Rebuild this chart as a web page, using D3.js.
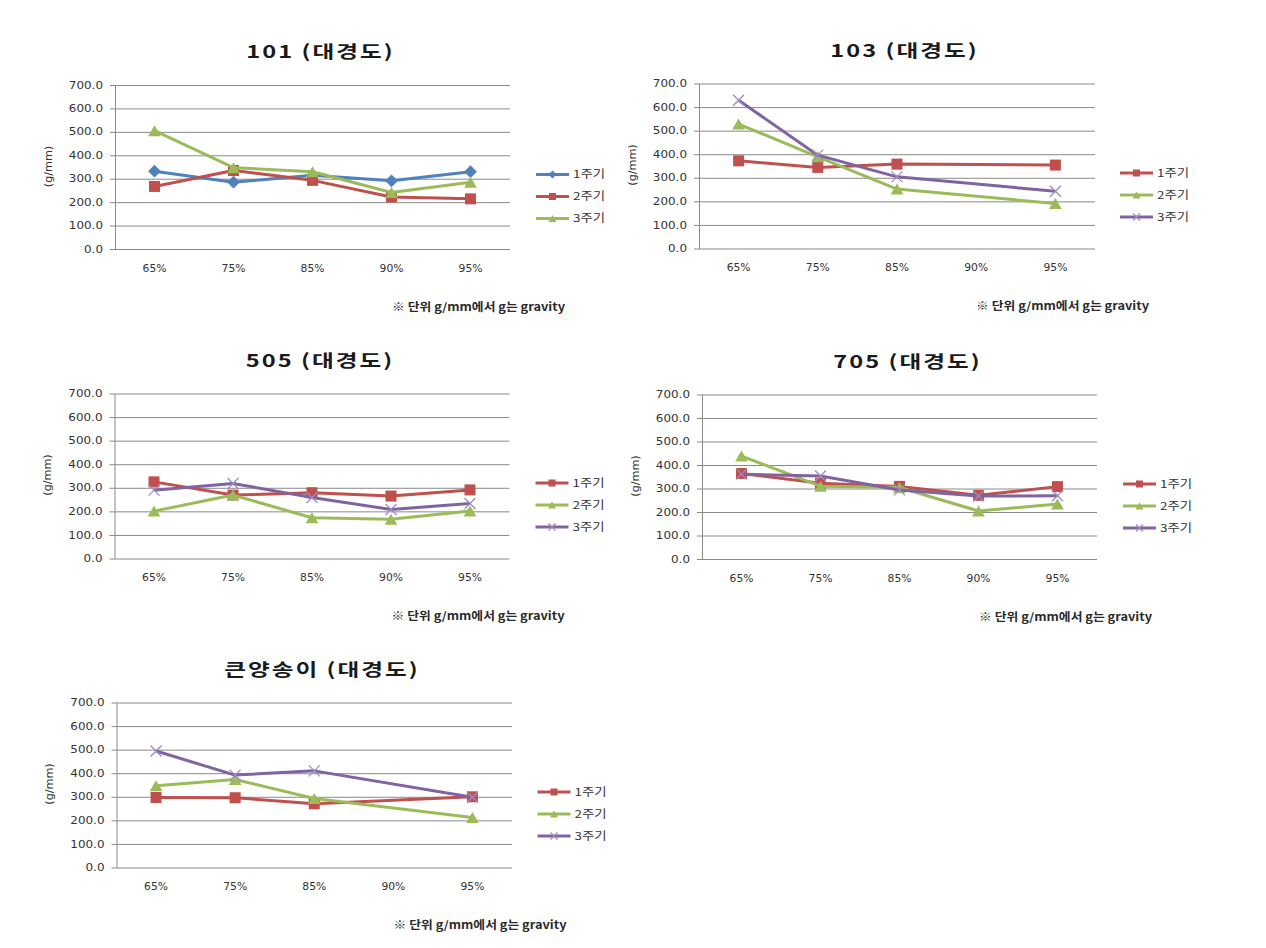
<!DOCTYPE html>
<html><head><meta charset="utf-8">
<script src="https://cdn.jsdelivr.net/npm/d3@7"></script>
<style>body{margin:0;background:#fff}svg{display:block}</style>
</head><body>
<svg id="c" width="1266" height="948"></svg>
<script>
// ---------- DATA ----------
const categories = ["65%","75%","85%","90%","95%"];
const yTicks = [0,100,200,300,400,500,600,700];
const seriesNames = ["1주기","2주기","3주기"];
const titles = ["101 (대경도)","103 (대경도)","505 (대경도)","705 (대경도)","큰양송이 (대경도)"];
const noteText = "※ 단위 g/mm에서 g는 gravity";
const yLabelText = "(g/mm)";

const v101_c1 = [332,285,315,291,330];
const v101_c2 = [267,335,293,222,214];
const v101_c3 = [505,347,330,241,285];
const v103_c1 = [372,344,358,null,354];
const v103_c2 = [528,389,252,null,191];
const v103_c3 = [629,396,304,null,243];
const v505_c1 = [325,269,279,265,291];
const v505_c2 = [201,269,173,167,202];
const v505_c3 = [290,318,259,208,233];
const v705_c1 = [364,322,309,271,308];
const v705_c2 = [438,310,304,204,234];
const v705_c3 = [361,353,294,268,269];
const vKeun_c1 = [297,296,270,null,300];
const vKeun_c2 = [347,373,293,null,212];
const vKeun_c3 = [494,392,410,null,298];

// ---------- STYLE / LAYOUT ----------
const COL = {blue:"#4F81BD", red:"#C0504D", green:"#9BBB59", purple:"#8064A2"};
const styleA = [{c:COL.blue,m:"diamond"},{c:COL.red,m:"square"},{c:COL.green,m:"triangle"}];
const styleB = [{c:COL.red,m:"square"},{c:COL.green,m:"triangle"},{c:COL.purple,m:"x"}];

const charts = [
  {title:titles[0], series:[v101_c1,v101_c2,v101_c3], style:styleA, left:115, top:85, w:395, h:164},
  {title:titles[1], series:[v103_c1,v103_c2,v103_c3], style:styleB, left:699, top:83.5, w:396, h:165},
  {title:titles[2], series:[v505_c1,v505_c2,v505_c3], style:styleB, left:114.5, top:393.5, w:395, h:165},
  {title:titles[3], series:[v705_c1,v705_c2,v705_c3], style:styleB, left:702, top:394.5, w:395, h:164.5},
  {title:titles[4], series:[vKeun_c1,vKeun_c2,vKeun_c3], style:styleB, left:116.5, top:702.5, w:395.5, h:165}
];

const svg = d3.select("#c");
svg.append("rect").attr("width",1266).attr("height",948).attr("fill","#fff");

const GRID = "#8a8a8a";
const LAB_FONT = "'DejaVu Sans', 'Noto Sans CJK KR', sans-serif";
const KR_FONT = "'Noto Sans CJK KR', 'DejaVu Sans', sans-serif";

function stretch(sel, f){
  sel.each(function(){
    const L = this.getComputedTextLength();
    this.setAttribute("textLength", (L*f).toFixed(2));
    this.setAttribute("lengthAdjust","spacingAndGlyphs");
  });
}
function stretchTo(sel, target){
  sel.each(function(){
    this.setAttribute("textLength", target);
    this.setAttribute("lengthAdjust","spacingAndGlyphs");
  });
}

function marker(g, type, cx, cy, s, color){
  if(type==="square"){
    g.append("rect").attr("x",cx-s/2).attr("y",cy-s/2).attr("width",s).attr("height",s).attr("fill",color);
  } else if(type==="diamond"){
    const r = s*0.58;
    g.append("path").attr("d",`M${cx},${cy-r}L${cx+r},${cy}L${cx},${cy+r}L${cx-r},${cy}Z`).attr("fill",color);
  } else if(type==="triangle"){
    const hw = s*0.58, hh = s*0.5;
    g.append("path").attr("d",`M${cx},${cy-hh}L${cx+hw},${cy+hh}L${cx-hw},${cy+hh}Z`).attr("fill",color);
  } else if(type==="x"){
    const r = s/2;
    g.append("path").attr("d",`M${cx-r},${cy-r}L${cx+r},${cy+r}M${cx-r},${cy+r}L${cx+r},${cy-r}`)
      .attr("stroke","#9d8bbf").attr("stroke-width",1.3).attr("fill","none");
  }
}

charts.forEach(ch => {
  const {left, top, w, h} = ch;
  const x = d3.scaleBand().domain(categories).range([0,w]);
  const y = d3.scaleLinear().domain([0,700]).range([h,0]);
  const g = svg.append("g").attr("transform",`translate(${left},${top})`);

  // gridlines
  const grid = g.append("g").call(d3.axisLeft(y).tickValues(yTicks).tickSize(-w).tickFormat(""));
  grid.select(".domain").remove();
  grid.selectAll("line").attr("stroke",GRID).attr("stroke-width",1);

  // y axis with ticks + labels
  const ya = g.append("g").call(d3.axisLeft(y).tickValues(yTicks).tickSizeInner(5).tickSizeOuter(0).tickPadding(7).tickFormat(d3.format(".1f")));
  ya.select(".domain").attr("stroke",GRID);
  ya.selectAll("line").attr("stroke",GRID);
  ya.selectAll("text").attr("font-family",LAB_FONT).attr("font-size",9.8).attr("fill","#333");
  stretch(ya.selectAll("text"), 1.22);

  // x axis labels
  const xa = g.append("g").attr("transform",`translate(0,${h})`).call(d3.axisBottom(x).tickSize(0).tickPadding(16));
  xa.select(".domain").remove();
  xa.selectAll("text").attr("font-family",LAB_FONT).attr("font-size",9.8).attr("fill","#333");
  stretch(xa.selectAll("text"), 1.1);

  // series
  const line = d3.line().x(d => x(d.cat)+x.bandwidth()/2).y(d => y(d.v));
  ch.series.forEach((vals, si) => {
    const st = ch.style[si];
    const pts = categories.map((c,i)=>({cat:c, v:vals[i]})).filter(d => d.v !== null);
    const sg = g.append("g");
    sg.append("path").datum(pts).attr("d",line).attr("fill","none")
      .attr("stroke",st.c).attr("stroke-width",3).attr("stroke-linejoin","round");
    pts.forEach(d => marker(sg, st.m, x(d.cat)+x.bandwidth()/2, y(d.v), 11, st.c));
  });

  // title
  const t = svg.append("text").attr("x",left+205.5).attr("y",top-33).attr("dy","0.36em")
    .attr("text-anchor","middle").attr("font-family",KR_FONT).attr("font-weight","bold")
    .attr("font-size",17.5).attr("fill","#1a1a1a").attr("letter-spacing",1.5).text(ch.title);
  stretch(t, 1.35);

  // y label
  const yl = svg.append("text").attr("transform",`translate(${left-67},${top+81.5}) rotate(-90)`)
    .attr("dy","0.35em").attr("text-anchor","middle").attr("font-family",LAB_FONT)
    .attr("font-size",10).attr("fill","#333").text(yLabelText);
  stretch(yl, 1.12);

  // legend
  const rows = [89.5,111.5,133.5];
  seriesNames.forEach((nm, si) => {
    const st = ch.style[si];
    const ly = top + rows[si];
    const lx = left + 421;
    const lg = svg.append("g");
    lg.append("line").attr("x1",lx).attr("x2",lx+33).attr("y1",ly).attr("y2",ly)
      .attr("stroke",st.c).attr("stroke-width",3);
    marker(lg, st.m, lx+16.5, ly, 7, st.c);
    const lt = lg.append("text").attr("x",lx+37).attr("y",ly).attr("dy","0.36em")
      .attr("font-family",KR_FONT).attr("font-size",11).attr("fill","#333").text(nm);
    stretch(lt, 1.22);
  });

  // note
  const nt = svg.append("text").attr("x",left+277).attr("y",top+222.5).attr("dy","0.36em")
    .attr("font-family",KR_FONT).attr("font-weight","bold").attr("font-size",11)
    .attr("fill","#2a2a2a").text(noteText);
  stretchTo(nt, 173);
});
</script>
</body></html>
